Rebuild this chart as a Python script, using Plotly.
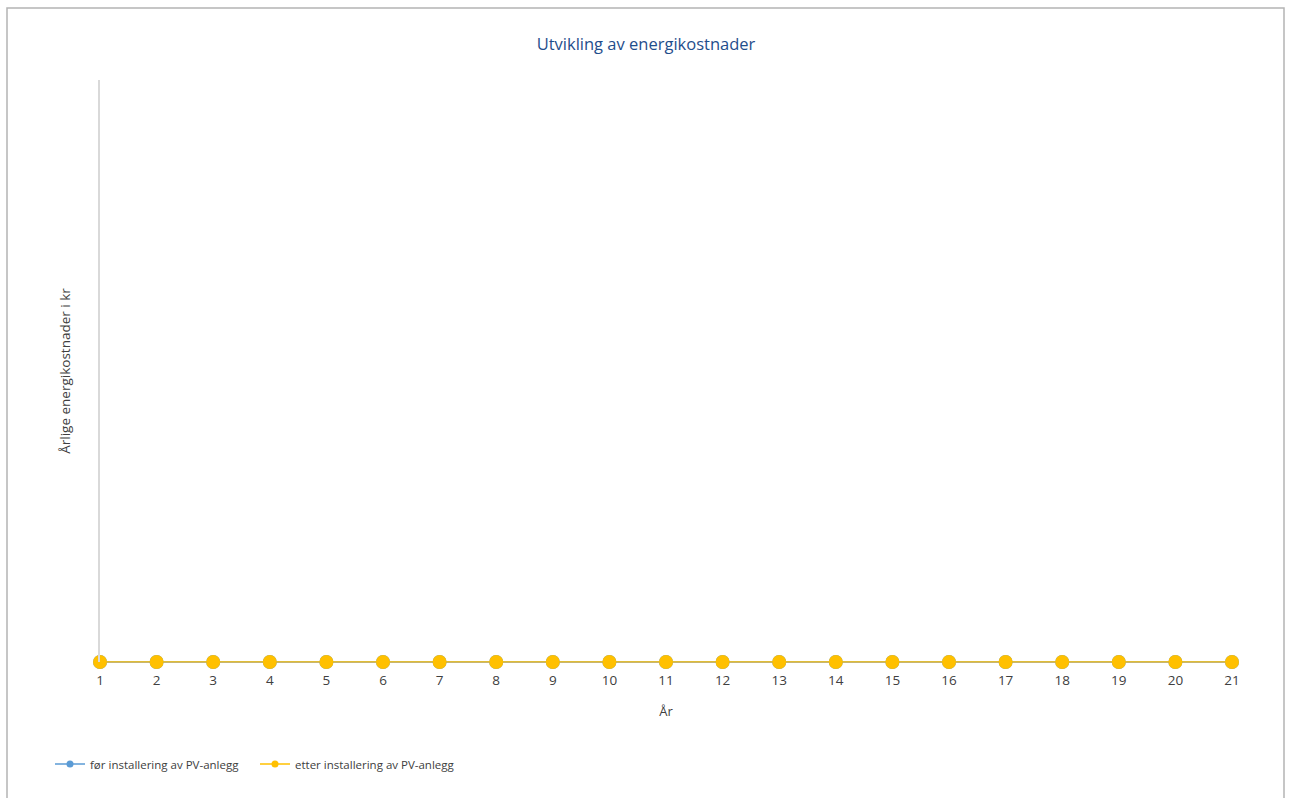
import plotly.graph_objects as go

# Years and annual energy costs (kr)
years = [1, 2, 3, 4, 5, 6, 7, 8, 9, 10, 11, 12, 13, 14, 15, 16, 17, 18, 19, 20, 21]
cost_before = [0, 0, 0, 0, 0, 0, 0, 0, 0, 0, 0, 0, 0, 0, 0, 0, 0, 0, 0, 0, 0]
cost_after = [0, 0, 0, 0, 0, 0, 0, 0, 0, 0, 0, 0, 0, 0, 0, 0, 0, 0, 0, 0, 0]

name_before = "før installering av PV-anlegg"
name_after = "etter installering av PV-anlegg"

BLUE = "#5b9bd5"
YELLOW = "#ffc000"
FONT = "Open Sans"

W, H = 1292, 798
L, R, T, B = 100, 60, 80, 136

fig = go.Figure()

for ys, color, name in [(cost_before, BLUE, name_before), (cost_after, YELLOW, name_after)]:
    fig.add_trace(go.Scatter(
        x=years, y=ys, mode="lines+markers", name=name, showlegend=False,
        line=dict(color=color, width=1.5),
        marker=dict(color=color, size=14),
        cliponaxis=False,
    ))
    # legend entry with a smaller marker
    fig.add_trace(go.Scatter(
        x=[None], y=[None], mode="lines+markers", name=name,
        line=dict(color=color, width=1.5),
        marker=dict(color=color, size=7),
    ))

pw, ph = W - L - R, H - T - B
def px_x(p):
    return (p - L) / pw
def px_y(p):
    return (H - B - p) / ph

# outer frame of the chart
fig.add_shape(type="rect", xref="paper", yref="paper",
              x0=px_x(7), x1=px_x(1284), y0=px_y(810), y1=px_y(8),
              line=dict(color="#b4b4b4", width=1.5), layer="below")

fig.update_layout(
    width=W, height=H,
    margin=dict(l=L, r=R, t=T, b=B),
    paper_bgcolor="white", plot_bgcolor="white",
    font=dict(family=FONT, color="#404040", size=12),
    title=dict(text="Utvikling av energikostnader", x=0.5, xanchor="center",
               y=1 - 44 / H, yanchor="middle",
               font=dict(family=FONT, size=16.5, color="#1f4e8c")),
    legend=dict(orientation="h", x=px_x(50), xanchor="left", y=px_y(764), yanchor="middle",
                font=dict(family=FONT, size=11.5, color="#404040"),
                itemwidth=30, entrywidth=160, tracegroupgap=0),
    xaxis=dict(
        range=[1, 21], tickmode="array", tickvals=years, ticktext=[str(v) for v in years],
        showgrid=False, zeroline=False, showline=True, linecolor="#c8b66e", linewidth=1,
        ticks="outside", ticklen=6, tickcolor="#7f7f7f", layer="below traces",
        tickfont=dict(family=FONT, size=13.5, color="#404040"),
        title=dict(text="År", font=dict(family=FONT, size=13, color="#404040"), standoff=18),
    ),
    yaxis=dict(
        range=[0, 1], showticklabels=False, showgrid=False, zeroline=False,
        showline=True, linecolor="#d9d9d9", linewidth=2, ticks="",
        title=dict(text="Årlige energikostnader i kr", font=dict(family=FONT, size=13.5, color="#404040"),
                   standoff=24),
    ),
)

fig.write_html("out.html")
